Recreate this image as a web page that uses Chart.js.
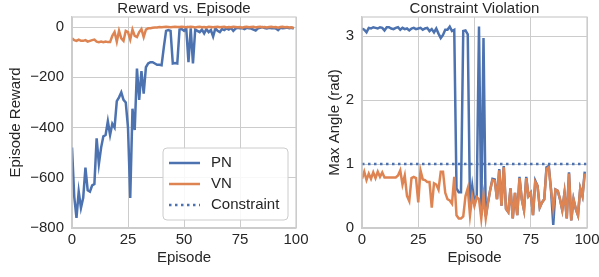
<!DOCTYPE html>
<html>
<head>
<meta charset="utf-8">
<script src="https://cdn.jsdelivr.net/npm/chart.js@4.4.0/dist/chart.umd.min.js"></script>
<style>
  html, body { margin: 0; padding: 0; background: #fff; overflow: hidden; }
  #wrap { position: relative; width: 599px; height: 277px; }
  canvas { position: absolute; top: 0; }
  #left { left: 0; }
  #right { left: 300px; }
</style>
</head>
<body>
<div id="wrap">
  <canvas id="left" width="320" height="277"></canvas>
  <canvas id="right" width="312" height="277"></canvas>
</div>
<script>
// Episode index (x axis)
const episodes = Array.from({ length: 100 }, (_, i) => i);
const xTicks = [0, 25, 50, 75, 100];

// Left panel: episode reward
const pnReward = [
  -480, -675, -760, -655, -720, -680, -560, -650, -655, -630,
  -625, -443, -545, -480, -435, -430, -375, -430, -385, -400,
  -295, -280, -260, -290, -300, -400, -680, -325, -410, -165,
  -290, -175, -265, -160, -145, -140, -140, -145, -150, -150,
  -152, -80, -15, -12, -15, -145, -143, -145, -10, -8,
  -15, -5, -140, -5, -145, -10, -15, -20, -10, -25,
  -8, -20, -12, -38, -5, -15, -20, -8, -12, -5,
  -10, -4, -15, -6, -3, -5, -4, -8, -3, -5,
  -6, -10, -14, -5, -3, 0, -4, -6, -3, -5,
  -4, -6, -12, -3, -5, -4, -2, -5, -3, -6
];
const vnReward = [
  -45, -52, -55, -50, -55, -55, -52, -58, -55, -52,
  -50, -58, -60, -58, -60, -58, -60, -60, -35, -20,
  -58, -15, -45, -55, -15, -20, -50, -10, -35, -40,
  -20, -8, -40, -10, -5, -5, -3, -2, -2, 0,
  -1, 0, 1, 0, -1, 0, 1, 0, 0, 1,
  0, -1, 0, 1, 0, -2, 0, 1, -1, 0,
  -2, 1, 0, -1, 0, 1, -1, 0, 1, -2,
  0, -1, 1, 0, -1, 0, -3, 0, 1, -1,
  0, 1, -2, 0, 1, -1, 0, -2, 0, 1,
  -1, 0, -3, 0, 1, -1, 0, -2, -1, -4
];
const rewardTicks = [-800, -600, -400, -200, 0];

// Right panel: max angle
const pnAngle = [
  3.12, 3.10, 3.06, 3.13, 3.12, 3.14, 3.13, 3.12, 3.14, 3.13,
  3.09, 3.14, 3.14, 3.12, 3.11, 3.13, 3.14, 3.10, 3.13, 3.11,
  3.12, 3.09, 3.12, 3.13, 3.11, 3.12, 3.13, 3.10, 3.12, 3.13,
  3.08, 3.11, 3.06, 3.12, 3.04, 2.97, 3.02, 3.10, 3.10, 3.15,
  3.08, 3.10, 0.62, 0.56, 0.56, 3.08, 3.09, 3.03, 0.35, 0.66,
  0.38, 0.52, 3.15, 0.20, 2.97, 0.18, 0.40, 0.60, 0.77, 0.76,
  0.45, 0.92, 0.35, 0.97, 0.30, 0.25, 0.62, 0.15, 0.55, 0.20,
  0.80, 0.45, 0.28, 0.80, 0.50, 0.55, 0.20, 0.74, 0.66, 0.32,
  0.40, 0.45, 0.95, 0.97, 0.60, 0.05, 0.60, 0.58, 0.45, 0.28,
  0.55, 0.15, 0.87, 0.12, 0.45, 0.30, 0.20, 0.62, 0.50, 0.88
];
const vnAngle = [
  0.77, 0.88, 0.75, 0.85, 0.77, 0.87, 0.78, 0.88, 0.80, 0.87,
  0.79, 0.79, 0.79, 0.79, 0.79, 0.79, 0.82, 0.90, 0.68, 0.82,
  0.50, 0.42, 0.78, 0.80, 0.78, 0.40, 0.90, 0.76, 0.75, 0.72,
  0.72, 0.32, 0.70, 0.68, 0.60, 0.88, 0.88, 0.55, 0.45, 0.43,
  0.38, 0.80, 0.20, 0.15, 0.15, 0.18, 0.50, 0.62, 0.20, 0.50,
  0.35, 0.48, 0.45, 0.15, 0.50, 0.15, 0.40, 0.60, 0.75, 0.74,
  0.45, 0.90, 0.35, 0.95, 0.30, 0.25, 0.62, 0.15, 0.55, 0.20,
  0.78, 0.45, 0.28, 0.78, 0.50, 0.55, 0.20, 0.72, 0.66, 0.32,
  0.40, 0.45, 0.92, 0.95, 0.60, 0.30, 0.60, 0.58, 0.45, 0.28,
  0.55, 0.15, 0.85, 0.12, 0.45, 0.30, 0.20, 0.62, 0.50, 0.85
];
const constraintValue = [1, 1];
const constraintX = [0, 100];
const angleTicks = [0, 1, 2, 3];

const legendLabels = ['PN', 'VN', 'Constraint'];

// seaborn-ish styling
const BLUE = '#4c72b0';
const ORANGE = '#dd8452';
const TEXT = '#262626';
const GRID = '#cccccc';
const FONT = "'Liberation Sans', Arial, sans-serif";
const FS = 15;
const LW = 2.5;

const toXY = ys => ys.map((y, i) => ({ x: episodes[i], y }));

// Draws the panel title centred on the plot area, plus the top/right frame
const framePlugin = {
  id: 'frame',
  afterDraw(chart, args, opts) {
    const { ctx, chartArea: a } = chart;
    ctx.save();
    ctx.strokeStyle = GRID;
    ctx.lineWidth = 1.2;
    ctx.strokeRect(a.left, a.top, a.right - a.left, a.bottom - a.top);
    ctx.fillStyle = TEXT;
    ctx.font = `${FS}px ${FONT}`;
    ctx.textAlign = 'center';
    ctx.textBaseline = 'alphabetic';
    ctx.fillText(opts.text, (a.left + a.right) / 2, opts.y);
    ctx.restore();
  }
};

// Legend box inside the left plot
const legendPlugin = {
  id: 'boxLegend',
  afterDraw(chart, args, opts) {
    if (!opts.show) return;
    const { ctx } = chart;
    const { x, y, w, h } = opts;
    ctx.save();
    ctx.beginPath();
    ctx.roundRect(x, y, w, h, 4);
    ctx.fillStyle = 'rgba(255,255,255,0.85)';
    ctx.fill();
    ctx.strokeStyle = GRID;
    ctx.lineWidth = 1;
    ctx.stroke();
    const styles = [
      { color: BLUE, dash: [] },
      { color: ORANGE, dash: [] },
      { color: BLUE, dash: [2.5, 3.5] }
    ];
    ctx.font = `${FS}px ${FONT}`;
    ctx.textBaseline = 'middle';
    ctx.fillStyle = TEXT;
    legendLabels.forEach((lab, i) => {
      const ry = y + 15 + i * 21;
      ctx.beginPath();
      ctx.setLineDash(styles[i].dash);
      ctx.strokeStyle = styles[i].color;
      ctx.lineWidth = LW;
      ctx.moveTo(x + 6, ry);
      ctx.lineTo(x + 37, ry);
      ctx.stroke();
      ctx.setLineDash([]);
      ctx.fillText(lab, x + 48, ry);
    });
    ctx.restore();
  }
};

const tickFont = { family: FONT, size: FS };

function makeOptions(cfg) {
  return {
    responsive: false,
    animation: false,
    layout: { padding: { top: cfg.top, right: cfg.right, left: 0, bottom: 0 } },
    elements: { point: { radius: 0 }, line: { borderWidth: LW, tension: 0 } },
    plugins: {
      legend: { display: false },
      tooltip: { enabled: false },
      frame: { text: cfg.title, y: 12.5 },
      boxLegend: cfg.legend || { show: false }
    },
    scales: {
      x: {
        type: 'linear', min: 0, max: 100,
        afterBuildTicks: s => { s.ticks = xTicks.map(v => ({ value: v })); },
        ticks: { color: TEXT, font: tickFont, padding: 3, maxRotation: 0 },
        grid: { color: GRID, lineWidth: 1, drawTicks: false },
        border: { color: GRID, width: 1.2 },
        title: { display: true, text: 'Episode', color: TEXT, font: tickFont, padding: { top: 0, bottom: 10 } },
        afterFit: s => { s.height = 49; }
      },
      y: {
        type: 'linear', min: cfg.ymin, max: cfg.ymax,
        afterBuildTicks: s => { s.ticks = cfg.yTicks.map(v => ({ value: v })); },
        ticks: { color: TEXT, font: tickFont, padding: 8,
                 callback: v => (v < 0 ? '\u2212' + Math.abs(v) : String(v)) },
        grid: { color: GRID, lineWidth: 1, drawTicks: false },
        border: { color: GRID, width: 1.2 },
        title: { display: true, text: cfg.ylabel, color: TEXT, font: tickFont, padding: { top: cfg.ytitlePad, bottom: 0 } },
        afterFit: s => { s.width = cfg.ywidth; }
      }
    }
  };
}

// higher "order" is drawn first (underneath)
new Chart(document.getElementById('left'), {
  type: 'line',
  data: {
    datasets: [
      { label: legendLabels[0], data: toXY(pnReward), borderColor: BLUE, order: 3 },
      { label: legendLabels[1], data: toXY(vnReward), borderColor: ORANGE, order: 2 }
    ]
  },
  options: makeOptions({
    title: 'Reward vs. Episode', ylabel: 'Episode Reward',
    top: 17, right: 24, ymin: -800, ymax: 40, yTicks: rewardTicks,
    ywidth: 72, ytitlePad: 7,
    legend: { show: true, x: 163, y: 148, w: 125, h: 72 }
  }),
  plugins: [framePlugin, legendPlugin]
});

new Chart(document.getElementById('right'), {
  type: 'line',
  data: {
    datasets: [
      { label: legendLabels[0], data: toXY(pnAngle), borderColor: BLUE, order: 3 },
      { label: legendLabels[1], data: toXY(vnAngle), borderColor: ORANGE, order: 2 },
      { label: legendLabels[2], data: constraintX.map((x, i) => ({ x, y: constraintValue[i] })),
        borderColor: BLUE, borderDash: [2.5, 3.5], borderWidth: LW, order: 1 }
    ]
  },
  options: makeOptions({
    title: 'Constraint Violation', ylabel: 'Max Angle (rad)',
    top: 16, right: 25, ymin: 0, ymax: 3.3, yTicks: angleTicks,
    ywidth: 62, ytitlePad: 26
  }),
  plugins: [framePlugin]
});
</script>
</body>
</html>
